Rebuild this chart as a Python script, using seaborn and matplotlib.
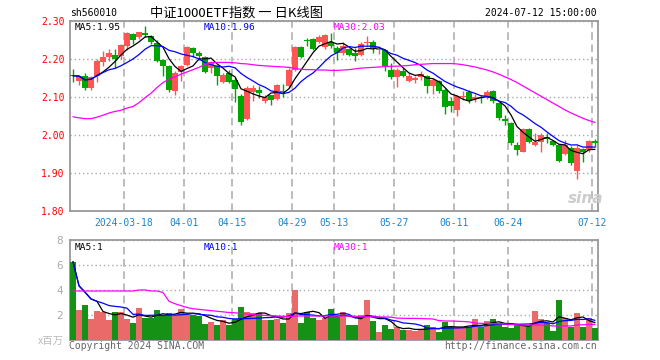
import matplotlib
matplotlib.use("Agg")
import matplotlib.pyplot as plt
import numpy as np
import pandas as pd
import seaborn as sns

# ====================================
# DATA
# ====================================

start_date = '2024-03-05'
end_date = '2024-07-12'
holidays = ['2024-04-04', '2024-04-05', '2024-05-01', '2024-05-02',
            '2024-05-03', '2024-06-10']

tick_dates = ['2024-03-18', '2024-04-01', '2024-04-15', '2024-04-29',
              '2024-05-13', '2024-05-27', '2024-06-11', '2024-06-24',
              '2024-07-12']
tick_labels = ['2024-03-18', '04-01', '04-15', '04-29', '05-13',
               '05-27', '06-11', '06-24', '07-12']

opens = [2.159, 2.143, 2.154, 2.125, 2.154, 2.191, 2.204, 2.210, 2.207, 2.233,
         2.267, 2.258, 2.268, 2.261, 2.242, 2.198, 2.181, 2.115, 2.165, 2.185,
         2.229, 2.217, 2.205, 2.176, 2.181, 2.139, 2.163, 2.146, 2.102, 2.042,
         2.112, 2.118, 2.089, 2.104, 2.095, 2.115, 2.130, 2.172, 2.232, 2.251,
         2.253, 2.244, 2.232, 2.246, 2.229, 2.216, 2.226, 2.216, 2.211, 2.242,
         2.246, 2.223, 2.223, 2.170, 2.153, 2.168, 2.141, 2.144, 2.153, 2.154,
         2.128, 2.141, 2.119, 2.089, 2.065, 2.100, 2.114, 2.094, 2.099, 2.099,
         2.116, 2.083, 2.041, 2.032, 1.974, 1.956, 2.015, 1.974, 1.982, 1.994,
         1.985, 1.974, 1.950, 1.965, 1.904, 1.962, 1.961, 1.984]
highs = [2.174, 2.157, 2.163, 2.156, 2.200, 2.220, 2.226, 2.225, 2.240, 2.270,
         2.268, 2.272, 2.286, 2.264, 2.249, 2.200, 2.183, 2.168, 2.185, 2.233,
         2.231, 2.220, 2.207, 2.196, 2.185, 2.163, 2.172, 2.153, 2.109, 2.128,
         2.132, 2.128, 2.106, 2.106, 2.135, 2.135, 2.176, 2.233, 2.233, 2.255,
         2.255, 2.264, 2.267, 2.268, 2.233, 2.244, 2.229, 2.229, 2.244, 2.260,
         2.249, 2.235, 2.226, 2.189, 2.176, 2.176, 2.163, 2.154, 2.168, 2.159,
         2.150, 2.146, 2.124, 2.100, 2.106, 2.115, 2.118, 2.108, 2.105, 2.118,
         2.118, 2.088, 2.053, 2.035, 1.982, 2.018, 2.018, 2.006, 2.006, 2.004,
         1.988, 1.976, 1.987, 1.970, 1.974, 1.965, 1.987, 1.989]
lows = [2.139, 2.132, 2.119, 2.118, 2.140, 2.181, 2.194, 2.176, 2.200, 2.223,
        2.240, 2.253, 2.258, 2.240, 2.191, 2.156, 2.112, 2.106, 2.141, 2.181,
        2.205, 2.198, 2.163, 2.163, 2.132, 2.137, 2.137, 2.086, 2.027, 2.040,
        2.089, 2.097, 2.084, 2.080, 2.091, 2.100, 2.124, 2.168, 2.202, 2.233,
        2.223, 2.242, 2.225, 2.228, 2.197, 2.211, 2.207, 2.196, 2.209, 2.233,
        2.216, 2.214, 2.168, 2.147, 2.126, 2.153, 2.139, 2.137, 2.146, 2.111,
        2.107, 2.111, 2.056, 2.060, 2.051, 2.093, 2.085, 2.086, 2.083, 2.096,
        2.085, 2.040, 2.026, 1.974, 1.947, 1.954, 1.978, 1.971, 1.956, 1.978,
        1.971, 1.930, 1.947, 1.921, 1.884, 1.930, 1.956, 1.969]
closes = [2.156, 2.154, 2.125, 2.152, 2.194, 2.205, 2.216, 2.200, 2.238, 2.268,
          2.249, 2.270, 2.264, 2.246, 2.194, 2.181, 2.118, 2.163, 2.181, 2.231,
          2.216, 2.209, 2.165, 2.191, 2.156, 2.159, 2.139, 2.121, 2.033, 2.124,
          2.124, 2.111, 2.100, 2.093, 2.132, 2.112, 2.172, 2.232, 2.205, 2.248,
          2.226, 2.258, 2.264, 2.233, 2.216, 2.235, 2.211, 2.207, 2.240, 2.246,
          2.229, 2.226, 2.181, 2.153, 2.172, 2.154, 2.156, 2.150, 2.161, 2.128,
          2.146, 2.115, 2.074, 2.077, 2.102, 2.102, 2.092, 2.099, 2.097, 2.114,
          2.090, 2.044, 2.038, 1.978, 1.961, 2.015, 1.982, 1.982, 2.000, 1.990,
          1.974, 1.932, 1.974, 1.927, 1.965, 1.956, 1.985, 1.978]

# volume in millions
volumes = [6.27, 2.40, 2.80, 1.68, 2.32, 2.21, 1.60, 2.24, 2.24, 1.68,
           1.36, 2.56, 1.76, 1.79, 2.40, 2.00, 2.16, 2.00, 2.48, 2.08,
           2.00, 1.92, 1.28, 1.44, 1.20, 1.60, 1.20, 1.65, 2.64, 2.21,
           2.16, 2.16, 1.60, 1.60, 1.68, 1.36, 2.16, 4.00, 1.36, 2.21,
           1.76, 1.60, 1.76, 2.48, 1.87, 2.24, 1.20, 1.20, 2.00, 3.20,
           1.52, 0.64, 1.20, 0.88, 1.04, 0.80, 0.80, 0.72, 0.88, 1.20,
           1.04, 0.64, 1.44, 1.04, 1.04, 1.04, 1.04, 1.68, 1.04, 1.52,
           1.68, 1.36, 1.04, 0.96, 1.20, 1.20, 1.12, 2.32, 1.68, 1.36,
           0.72, 3.20, 1.76, 1.04, 2.16, 1.04, 1.76, 0.96]

# 30-day averages as drawn (they include days before the window)
price_ma30 = [2.048, 2.045, 2.043, 2.043, 2.047, 2.052, 2.058, 2.062, 2.065, 2.071,
              2.075, 2.085, 2.098, 2.110, 2.125, 2.138, 2.147, 2.153, 2.160, 2.166,
              2.172, 2.178, 2.186, 2.190, 2.191, 2.191, 2.191, 2.190, 2.188, 2.187,
              2.185, 2.183, 2.182, 2.181, 2.180, 2.179, 2.178, 2.175, 2.173, 2.172,
              2.172, 2.171, 2.171, 2.170, 2.170, 2.171, 2.172, 2.174, 2.176, 2.177,
              2.178, 2.179, 2.180, 2.181, 2.181, 2.182, 2.183, 2.185, 2.186, 2.187,
              2.188, 2.188, 2.188, 2.188, 2.187, 2.185, 2.182, 2.179, 2.175, 2.171,
              2.166, 2.160, 2.153, 2.146, 2.138, 2.129, 2.120, 2.111, 2.102, 2.093,
              2.084, 2.075, 2.066, 2.058, 2.051, 2.044, 2.038, 2.033]
volume_ma30 = [3.92, 3.92, 3.92, 3.92, 3.92, 3.92, 3.92, 3.92, 3.92, 3.92,
               3.92, 4.00, 4.00, 3.92, 3.92, 3.80, 3.10, 2.90, 2.75, 2.60,
               2.50, 2.45, 2.40, 2.35, 2.30, 2.25, 2.20, 2.18, 2.12, 2.08,
               2.02, 2.00, 1.97, 1.94, 1.92, 1.90, 1.88, 1.92, 1.92, 1.92,
               1.92, 1.92, 1.92, 1.92, 1.92, 1.92, 1.92, 1.90, 1.86, 1.85,
               1.85, 1.84, 1.84, 1.83, 1.75, 1.74, 1.73, 1.73, 1.72, 1.70,
               1.68, 1.55, 1.52, 1.52, 1.50, 1.48, 1.45, 1.36, 1.33, 1.33,
               1.32, 1.30, 1.28, 1.25, 1.20, 1.20, 1.20, 1.20, 1.20, 1.18,
               1.12, 1.12, 1.12, 1.12, 1.20, 1.22, 1.24, 1.25]

# ====================================
# STYLE
# ====================================

RED = '#ff5555'
GREEN = '#00a600'
GRID = '#aaaaaa'
SPINE = '#999999'
MONO = 'DejaVu Sans Mono'
BAR_W = 0.86

sns.set_style('white')
plt.rcParams['font.family'] = ['Noto Sans CJK SC', 'DejaVu Sans']

# ====================================
# FRAME
# ====================================

days = pd.bdate_range(start_date, end_date)
days = days[~days.isin(pd.to_datetime(holidays))]

df = pd.DataFrame({
    'day': days,
    'open': opens,
    'high': highs,
    'low': lows,
    'close': closes,
    'volume': volumes,
})
df['x'] = np.arange(len(df))
df['dir'] = np.where(df['close'] >= df['open'], 'up', 'down')
colors = np.where(df['dir'] == 'up', RED, GREEN)

ma5 = df['close'].rolling(5, min_periods=1).mean()
ma10 = df['close'].rolling(10, min_periods=1).mean()
vma5 = df['volume'].rolling(5, min_periods=1).mean()
vma10 = df['volume'].rolling(10, min_periods=1).mean()

tick_pos = [df.index[df['day'] == pd.Timestamp(d)][0] - 0.5 for d in tick_dates]

# ====================================
# FIGURE
# ====================================

W, H = 660, 360
fig = plt.figure(figsize=(W / 100, H / 100), dpi=100)
ax = fig.add_axes([70 / W, 149 / H, 528 / W, 190 / H])
axv = fig.add_axes([70 / W, 20 / H, 528 / W, 100 / H])

# candles
ax.vlines(df['x'], df['low'], df['high'], colors=colors, lw=1, zorder=3)
body_low = np.minimum(df['open'], df['close'])
body_h = np.maximum((df['close'] - df['open']).abs(), 0.0016)
ax.bar(df['x'], body_h, bottom=body_low, width=BAR_W, color=colors,
       linewidth=0, zorder=3)

sns.lineplot(x=df['x'], y=ma5, color='black', lw=0.9, ax=ax, zorder=4)
sns.lineplot(x=df['x'], y=ma10, color='#0000ff', lw=0.9, ax=ax, zorder=4)
sns.lineplot(x=df['x'], y=price_ma30, color='#ff00ff', lw=0.9, ax=ax, zorder=4)

# volume
sns.barplot(x=df['x'], y=df['volume'], hue=df['dir'],
            palette={'up': RED, 'down': GREEN}, dodge=False, width=BAR_W,
            legend=False, ax=axv, zorder=3, linewidth=0)
sns.lineplot(x=df['x'], y=vma5, color='black', lw=0.9, ax=axv, zorder=4)
sns.lineplot(x=df['x'], y=vma10, color='#0000ff', lw=0.9, ax=axv, zorder=4)
sns.lineplot(x=df['x'], y=volume_ma30, color='#ff00ff', lw=0.9, ax=axv, zorder=4)

# ====================================
# AXES
# ====================================

for a in (ax, axv):
    a.set_xlim(-0.5, len(df) - 0.5)
    a.set_xticks(tick_pos)
    a.set_xlabel('')
    a.set_ylabel('')
    a.grid(axis='x', color=GRID, ls=(0, (5, 3)), lw=1.1)
    a.grid(axis='y', color=GRID, ls=(0, (1, 2)), lw=1)
    a.set_axisbelow(True)
    for s in a.spines.values():
        s.set_visible(True)
        s.set_color(SPINE)
        s.set_linewidth(1.3)

ax.set_ylim(1.80, 2.30)
ax.set_yticks([1.8, 1.9, 2.0, 2.1, 2.2, 2.3])
ax.set_yticklabels(['%.2f' % v for v in [1.8, 1.9, 2.0, 2.1, 2.2, 2.3]],
                   color='#ff0000', fontsize=7, family=MONO)
ax.set_xticklabels(tick_labels, color='#1a86d0', fontsize=7, family=MONO)
ax.tick_params(axis='y', length=0, pad=4)
ax.tick_params(axis='x', length=4, width=1, color=GRID, pad=1)

axv.set_ylim(0, 8)
axv.set_yticks([0, 2, 4, 6, 8])
axv.set_yticklabels(['', '2', '4', '6', '8'], color='#aaaaaa', fontsize=7.5,
                    family='DejaVu Sans')
axv.set_xticklabels([])
axv.tick_params(axis='y', length=0, pad=5)
axv.tick_params(axis='x', length=0)


def put(x, y, s, **kw):
    fig.text(x / W, 1 - y / H, s, va='center', **kw)


# titles
put(70, 13, 'sh560010', fontsize=7, family=MONO, color='black')
put(150, 13, '中证1000ETF指数 一 日K线图', fontsize=9.5,
    family=['Noto Sans CJK SC', 'DejaVu Sans'], color='black')
put(597, 13, '2024-07-12 15:00:00', fontsize=7, family=MONO, color='black',
    ha='right')

# MA legends
put(75, 27, 'MA5:1.95', fontsize=6.8, family=MONO, color='black')
put(204, 27, 'MA10:1.96', fontsize=6.8, family=MONO, color='#0000ff')
put(334, 27, 'MA30:2.03', fontsize=6.8, family=MONO, color='#ff00ff')
put(75, 247, 'MA5:1', fontsize=6.8, family=MONO, color='black')
put(204, 247, 'MA10:1', fontsize=6.8, family=MONO, color='#0000ff')
put(334, 247, 'MA30:1', fontsize=6.8, family=MONO, color='#ff00ff')

# footer
put(38, 341, 'x百万', fontsize=7.5, family=['Noto Sans CJK SC', 'DejaVu Sans'],
    color='#bbbbbb')
put(69, 346, 'Copyright 2024 SINA.COM', fontsize=7, family=MONO, color='#666666')
put(597, 346, 'http://finance.sina.com.cn', fontsize=7, family=MONO,
    color='#666666', ha='right')

# watermark
put(568, 198, 'sina', fontsize=11, family='DejaVu Sans', color='#cccccc',
    style='italic', weight='bold')

fig.savefig('out.png', dpi=100)
plt.close(fig)
